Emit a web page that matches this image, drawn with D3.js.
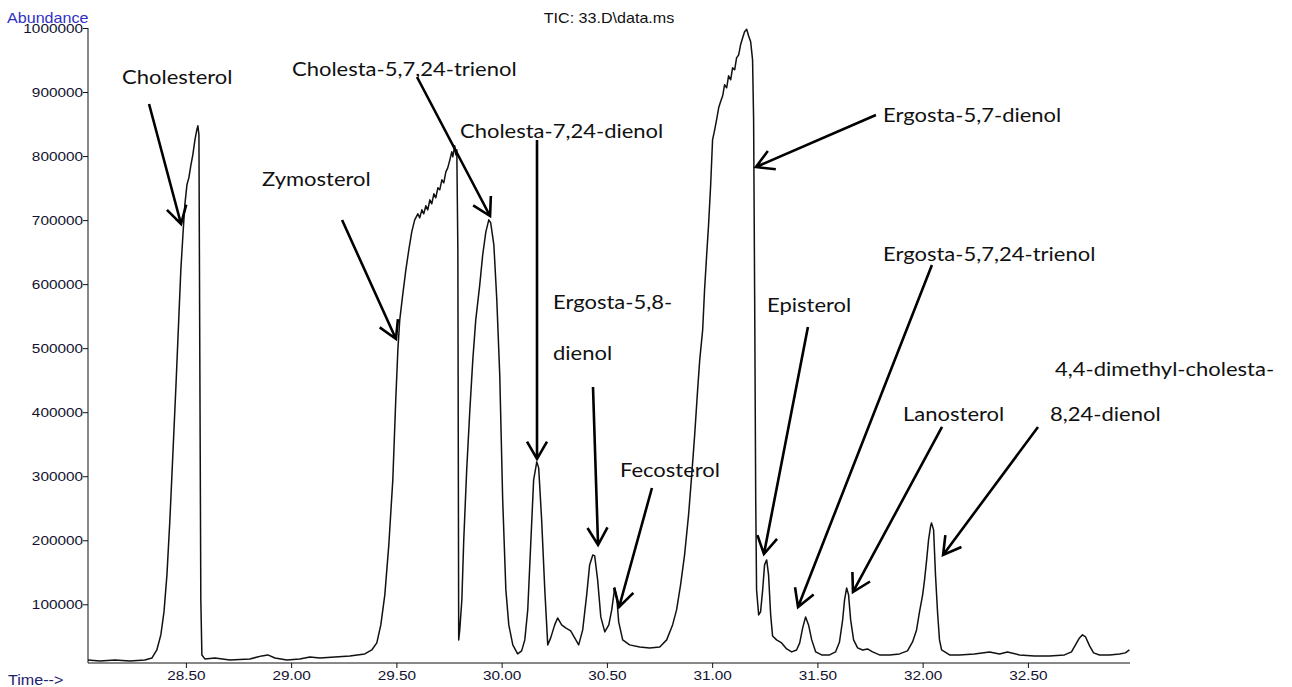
<!DOCTYPE html>
<html>
<head>
<meta charset="utf-8">
<script src="https://cdn.jsdelivr.net/npm/d3@7"></script>
<style>
  html, body { margin: 0; padding: 0; background: #fff; }
  svg { display: block; }
</style>
</head>
<body>
<svg id="chart" width="1292" height="687"></svg>
<script>
// Total ion chromatogram, sample 33.D: retention time (min) vs abundance
const retentionTime = [
  28.035, 28.092, 28.163, 28.234, 28.305, 28.339, 28.362, 28.381, 28.396, 28.410,
  28.424, 28.438, 28.453, 28.467, 28.476, 28.486, 28.495, 28.505, 28.514, 28.524,
  28.533, 28.543, 28.552, 28.557, 28.562, 28.566, 28.571, 28.576, 28.590, 28.638,
  28.709, 28.804, 28.861, 28.889, 28.923, 28.980, 29.041, 29.089, 29.136, 29.208,
  29.279, 29.350, 29.383, 29.407, 29.426, 29.445, 29.464, 29.483, 29.497, 29.507,
  29.516, 29.530, 29.545, 29.559, 29.573, 29.587, 29.602, 29.611, 29.621, 29.630,
  29.640, 29.649, 29.659, 29.668, 29.678, 29.687, 29.697, 29.706, 29.716, 29.725,
  29.735, 29.744, 29.754, 29.763, 29.768, 29.777, 29.782, 29.787, 29.792, 29.796,
  29.801, 29.811, 29.820, 29.834, 29.849, 29.863, 29.877, 29.896, 29.910, 29.925,
  29.939, 29.948, 29.963, 29.977, 29.991, 30.005, 30.020, 30.034, 30.053, 30.076,
  30.095, 30.110, 30.124, 30.138, 30.152, 30.167, 30.176, 30.190, 30.205, 30.219,
  30.233, 30.252, 30.266, 30.285, 30.304, 30.328, 30.347, 30.366, 30.385, 30.404,
  30.418, 30.433, 30.442, 30.456, 30.471, 30.490, 30.509, 30.523, 30.537, 30.547,
  30.556, 30.575, 30.608, 30.656, 30.703, 30.751, 30.784, 30.812, 30.831, 30.850,
  30.869, 30.888, 30.903, 30.917, 30.931, 30.941, 30.955, 30.964, 30.974, 30.983,
  30.993, 31.002, 31.012, 31.021, 31.031, 31.040, 31.050, 31.059, 31.069, 31.078,
  31.088, 31.097, 31.107, 31.116, 31.126, 31.135, 31.145, 31.154, 31.164, 31.173,
  31.183, 31.192, 31.197, 31.202, 31.207, 31.211, 31.221, 31.230, 31.240, 31.249,
  31.259, 31.268, 31.278, 31.287, 31.306, 31.330, 31.354, 31.378, 31.401, 31.416,
  31.430, 31.444, 31.458, 31.473, 31.492, 31.520, 31.558, 31.586, 31.605, 31.620,
  31.629, 31.639, 31.648, 31.658, 31.672, 31.691, 31.715, 31.738, 31.762, 31.795,
  31.843, 31.890, 31.928, 31.952, 31.971, 31.985, 32.000, 32.009, 32.019, 32.028,
  32.038, 32.042, 32.052, 32.061, 32.071, 32.080, 32.090, 32.128, 32.175, 32.246,
  32.318, 32.365, 32.403, 32.460, 32.531, 32.603, 32.674, 32.707, 32.726, 32.745,
  32.759, 32.774, 32.793, 32.812, 32.840, 32.888, 32.935, 32.963, 32.982
];

const abundance = [
  13100, 11600, 13100, 11600, 13100, 16200, 28700, 52200, 88100, 145900,
  231800, 333300, 442700, 552000, 622300, 677000, 723800, 755100, 766000, 786300,
  801900, 825400, 841000, 847200, 833200, 497300, 106800, 20900, 14700, 16200,
  13100, 14700, 19400, 20900, 16200, 13100, 14700, 17800, 16200, 17800,
  19400, 22500, 28700, 39700, 67800, 114700, 192800, 294300, 419200, 497300,
  544200, 583300, 622300, 653500, 681700, 700400, 709800, 703500, 716000, 709800,
  722300, 716000, 731600, 725400, 741000, 734800, 750400, 747300, 762900, 758200,
  775400, 781600, 794100, 806600, 798800, 816000, 801900, 809700, 653500, 44400,
  60000, 106800, 200600, 309900, 403600, 481700, 544200, 598900, 645700, 681700,
  700400, 695700, 661400, 575400, 458300, 263000, 122500, 67800, 36600, 22500,
  27200, 44400, 91200, 192800, 294300, 322400, 313000, 231800, 122500, 36600,
  47500, 67800, 78700, 67800, 63100, 58400, 47500, 36600, 60000, 114700,
  161500, 177100, 175600, 138100, 80300, 56900, 67800, 91200, 125600, 110000,
  72500, 44400, 36600, 33400, 31900, 33400, 44400, 67800, 91200, 130300,
  177100, 239600, 302100, 364600, 434900, 481700, 528600, 591100, 645700, 692600,
  755100, 825400, 841000, 856600, 875300, 884700, 894100, 911300, 906600, 925300,
  919100, 937800, 934700, 953400, 958100, 973800, 984700, 994100, 998000, 987800,
  978400, 950300, 856600, 575400, 263000, 122500, 83400, 88100, 122500, 161500,
  169300, 145900, 83400, 50600, 44400, 39700, 30300, 25600, 28700, 39700,
  63100, 80300, 67800, 44400, 25600, 20900, 20900, 25600, 41200, 75600,
  106800, 125600, 114700, 75600, 44400, 31900, 28700, 30300, 25600, 20900,
  20900, 22500, 27200, 41200, 60000, 88100, 114700, 138100, 169300, 200600,
  222400, 227100, 216200, 145900, 86500, 44400, 28700, 20900, 20900, 22500,
  25600, 22500, 25600, 20900, 19400, 19400, 20900, 25600, 36600, 47500,
  52200, 49000, 35000, 24100, 20900, 20900, 22500, 24100, 28700
];

// Axis ticks
const timeTickLabels = [28.5, 29.0, 29.5, 30.0, 30.5, 31.0, 31.5, 32.0, 32.5];
const abundanceTickLabels = [100000, 200000, 300000, 400000, 500000, 600000, 700000, 800000, 900000, 1000000];

// Compound labels (text anchored in data space) and their arrows
const compoundNames = [
  ["Cholesterol"], ["Zymosterol"], ["Cholesta-5,7,24-trienol"], ["Cholesta-7,24-dienol"],
  ["Ergosta-5,8-", "dienol"], ["Fecosterol"], ["Ergosta-5,7-dienol"], ["Episterol"],
  ["Ergosta-5,7,24-trienol"], ["Lanosterol"], ["4,4-dimethyl-cholesta-", "8,24-dienol"]
];
// first text line: [time, abundance] of left end of baseline; second line where present
const labelAnchors = [
  [[28.197, 912500]], [[28.862, 753200]], [[29.004, 925000]], [[29.802, 828200]],
  [[30.244, 561100], [30.244, 481500]], [[30.562, 298800]], [[31.812, 853200]], [[31.261, 556500]],
  [[31.812, 636100]], [[31.907, 386200]], [[32.629, 456500], [32.605, 386200]]
];
const arrowTails = [
  [28.325, 881300], [29.242, 700100], [29.598, 923500], [30.168, 825100],
  [30.434, 439300], [30.714, 281600], [31.778, 864100], [31.455, 533000],
  [32.044, 629900], [32.092, 376900], [32.548, 376900]
];
const arrowTips = [
  [28.477, 693900], [29.498, 514300], [29.945, 706400], [30.168, 326900],
  [30.458, 192600], [30.558, 95800], [31.208, 782900], [31.246, 178500],
  [31.408, 95800], [31.669, 119200], [32.097, 177000]
];

const svg = d3.select("#chart");
const W = 1292, H = 687;
const margin = { left: 88, right: 162, top: 28, bottom: 24 };

const x = d3.scaleLinear().domain([28.035, 32.985]).range([margin.left, W - margin.right]);
const y = d3.scaleLinear().domain([8300, 1000000]).range([H - margin.bottom, margin.top]);

const axisFont = "'Liberation Sans', Arial, sans-serif";
const stretch = 1.18;

// ---- x axis ----
const xAxisG = svg.append("g").attr("transform", `translate(0,${y.range()[0]})`);
xAxisG.call(d3.axisBottom(x)
  .tickValues(d3.range(28.1, 32.95, 0.1))
  .tickSize(5).tickFormat(""));
xAxisG.call(d3.axisBottom(x)
  .tickValues(timeTickLabels)
  .tickSize(5).tickFormat(d3.format(".2f")));
xAxisG.select(".domain").attr("d", `M${x.range()[0]},0H${x.range()[1]}`);
xAxisG.selectAll("path, line").attr("stroke", "#111").attr("stroke-width", 1);
xAxisG.selectAll("text")
  .attr("font-family", axisFont).attr("font-size", 13).attr("fill", "#121230")
  .attr("y", 17).attr("dy", 0)
  .attr("transform", `scale(${stretch},1)`);

// ---- y axis ----
const yAxisG = svg.append("g").attr("transform", `translate(${x.range()[0]},0)`);
yAxisG.call(d3.axisLeft(y)
  .tickValues(d3.range(20000, 1000001, 20000))
  .tickSize(3).tickFormat(""));
yAxisG.call(d3.axisLeft(y)
  .tickValues(abundanceTickLabels)
  .tickSize(5).tickFormat(d3.format("d")));
yAxisG.select(".domain").attr("d", `M0,${y.range()[0]}V${y.range()[1]}`);
yAxisG.selectAll("path, line").attr("stroke", "#111").attr("stroke-width", 1);
yAxisG.selectAll("text")
  .attr("font-family", axisFont).attr("font-size", 13).attr("fill", "#121230")
  .attr("x", -5 / stretch)
  .attr("transform", `scale(${stretch},1)`);

// ---- axis captions and title ----
svg.append("text")
  .attr("transform", `translate(7,23) scale(1.15,1)`)
  .attr("font-family", axisFont).attr("font-size", 14).attr("fill", "#3030c4")
  .text("Abundance");
svg.append("text")
  .attr("transform", `translate(8,685) scale(1.15,1)`)
  .attr("font-family", axisFont).attr("font-size", 14).attr("fill", "#1c2270")
  .text("Time-->");
svg.append("text")
  .attr("transform", `translate(609,23) scale(1.15,1)`)
  .attr("text-anchor", "middle")
  .attr("font-family", axisFont).attr("font-size", 14).attr("fill", "#111")
  .text("TIC: 33.D\\data.ms");

// ---- chromatogram trace ----
const trace = retentionTime.map((t, i) => [t, abundance[i]]);
svg.append("path")
  .datum(trace)
  .attr("fill", "none")
  .attr("stroke", "#111")
  .attr("stroke-width", 1.5)
  .attr("stroke-linejoin", "round")
  .attr("d", d3.line().x(d => x(d[0])).y(d => y(d[1])));

// ---- compound annotations ----
const annoFont = "Lato, 'Open Sans', sans-serif";
const annoG = svg.append("g");
compoundNames.forEach((lines, i) => {
  lines.forEach((line, j) => {
    const [t, a] = labelAnchors[i][j];
    annoG.append("text")
      .attr("transform", `translate(${x(t)},${y(a)}) scale(1.1,1)`)
      .attr("font-family", annoFont).attr("font-size", 20).attr("fill", "#111")
      .text(line);
  });

  const x0 = x(arrowTails[i][0]), y0 = y(arrowTails[i][1]);
  const x1 = x(arrowTips[i][0]), y1 = y(arrowTips[i][1]);
  const ang = Math.atan2(y0 - y1, x0 - x1);
  const len = 20, spread = Math.PI / 6;
  const b1 = [x1 + len * Math.cos(ang + spread), y1 + len * Math.sin(ang + spread)];
  const b2 = [x1 + len * Math.cos(ang - spread), y1 + len * Math.sin(ang - spread)];
  annoG.append("path")
    .attr("d", `M${x0},${y0}L${x1},${y1}M${b1[0]},${b1[1]}L${x1},${y1}L${b2[0]},${b2[1]}`)
    .attr("fill", "none").attr("stroke", "#000")
    .attr("stroke-width", 2.6).attr("stroke-linecap", "butt").attr("stroke-linejoin", "miter");
});
</script>
</body>
</html>
